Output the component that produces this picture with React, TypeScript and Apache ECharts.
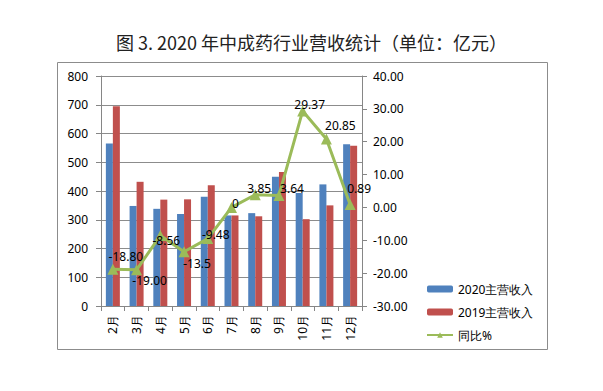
import React, { useEffect, useRef } from "react";
import * as echarts from "echarts";

const categories = ["2月", "3月", "4月", "5月", "6月", "7月", "8月", "9月", "10月", "11月", "12月"];
const revenue2020 = [565, 348, 338, 320, 380, 315, 323, 450, 393, 423, 563];
const revenue2019 = [695, 432, 370, 371, 420, 315, 312, 466, 302, 350, 557];
const yoyPct = [-18.8, -19.0, -8.56, -13.5, -9.48, 0, 3.85, 3.64, 29.37, 20.85, 0.89];
const yoyLabels = ["-18.80", "-19.00", "-8.56", "-13.5", "-9.48", "0", "3.85", "3.64", "29.37", "20.85", "0.89"];
const leftTicks = { min: 0, max: 800, interval: 100 };
const rightTicks = { min: -30, max: 40, interval: 10 };

// label offsets (styling only)
const labelOffsets: [number, number][] = [
  [13, -13], [13, 11], [6, 5], [13, 12], [8, -4], [4, -4], [4, -6], [13, -7], [7, -6], [14, -13], [9, -16],
];

const FONT = "Noto Sans";

export default function App() {
  const ref = useRef<HTMLDivElement>(null);
  useEffect(() => {
    if (!ref.current) return;
    const chart = echarts.init(ref.current, undefined, { renderer: "svg" });
    chart.setOption({
      animation: false,
      backgroundColor: "#ffffff",
      title: {
        text: "图 3. 2020 年中成药行业营收统计（单位：亿元）",
        left: 111,
        top: 28,
        textStyle: {
          fontFamily: "Noto Sans CJK SC",
          fontSize: 18,
          fontWeight: "normal",
          color: "#222",
        },
      },
      graphic: [
        {
          type: "rect",
          shape: { x: 57.5, y: 62.5, width: 490, height: 287 },
          style: { fill: "none", stroke: "#8c8c8c", lineWidth: 1 },
          silent: true,
        },
      ],
      grid: { left: 101, right: 241, top: 76, bottom: 85 },
      legend: {
        orient: "vertical",
        left: 421,
        top: 278,
        itemWidth: 26,
        itemHeight: 7,
        itemGap: 11,
        textStyle: { fontFamily: FONT, fontSize: 12, color: "#000" },
        data: ["2020主营收入", "2019主营收入", "同比%"],
      },
      xAxis: {
        type: "category",
        data: categories,
        axisLine: { lineStyle: { color: "#868686" } },
        axisTick: { show: true, length: 5, lineStyle: { color: "#868686" } },
        axisLabel: { rotate: 90, margin: 9, fontFamily: FONT, fontSize: 12, color: "#000" },
      },
      yAxis: [
        {
          type: "value",
          ...leftTicks,
          axisLine: { show: true, lineStyle: { color: "#868686" } },
          axisTick: { show: true, length: 5, lineStyle: { color: "#868686" } },
          axisLabel: { margin: 13, fontFamily: FONT, fontSize: 12, color: "#000" },
          splitLine: { show: true, lineStyle: { color: "#8c8c8c" } },
        },
        {
          type: "value",
          ...rightTicks,
          position: "right",
          axisLine: { show: true, lineStyle: { color: "#868686" } },
          axisTick: { show: true, length: 5, lineStyle: { color: "#868686" } },
          axisLabel: {
            margin: 11,
            fontFamily: FONT,
            fontSize: 12,
            color: "#000",
            formatter: (v: number) => v.toFixed(2),
          },
          splitLine: { show: false },
        },
      ],
      series: [
        {
          name: "2020主营收入",
          type: "bar",
          data: revenue2020,
          barWidth: 7,
          barGap: "0%",
          itemStyle: { color: "#4F81BD" },
        },
        {
          name: "2019主营收入",
          type: "bar",
          data: revenue2019,
          barWidth: 7,
          barGap: "0%",
          itemStyle: { color: "#C0504D" },
        },
        {
          name: "同比%",
          type: "line",
          yAxisIndex: 1,
          data: yoyPct.map((v, i) => ({
            value: v,
            label: {
              show: true,
              position: "inside",
              offset: labelOffsets[i],
              formatter: yoyLabels[i],
            },
          })),
          symbol: "triangle",
          symbolSize: 11,
          lineStyle: { color: "#9BBB59", width: 3 },
          itemStyle: { color: "#9BBB59" },
          label: {
            show: true,
            fontFamily: FONT,
            fontSize: 12,
            color: "#000",
          },
          z: 5,
        },
      ],
    });
    return () => chart.dispose();
  }, []);
  return (
    <div
      ref={ref}
      style={{ position: "fixed", left: 0, top: 0, width: 603, height: 391 }}
    />
  );
}
